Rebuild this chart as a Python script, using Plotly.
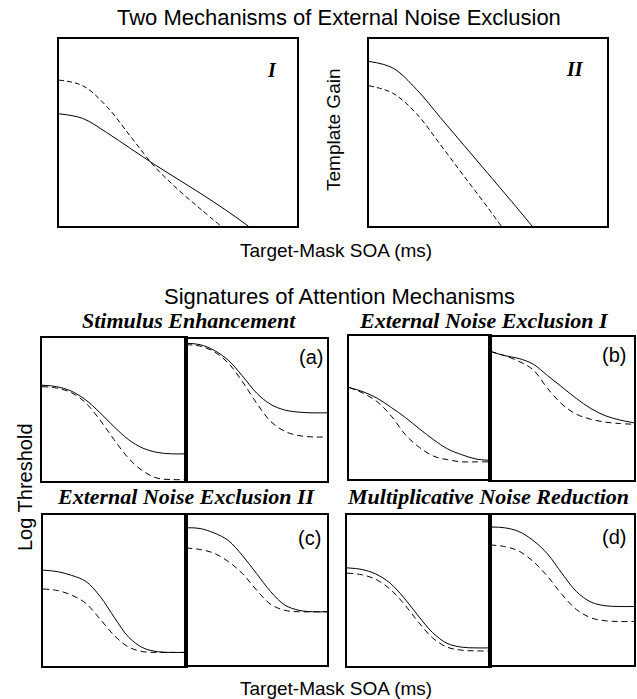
import plotly.graph_objects as go

W, H = 637, 699

# ---------------- data (normalised units, 0-100) ----------------
# Top: template gain vs target-mask SOA
gainI_solid_x = [0, 10, 20, 30, 40, 50, 60, 70, 79.5]
gainI_solid_y = [60, 57.5, 50, 41.5, 33, 25, 17, 8.6, 0]
gainI_dash_x = [0, 10, 20, 30, 40, 50, 60, 68]
gainI_dash_y = [78, 75, 64, 48, 32, 19.5, 8.5, 0]

gainII_solid_x = [0, 10, 20, 30, 40, 50, 60, 68.5]
gainII_solid_y = [88, 84.5, 73, 58, 43, 28, 13, 0]
gainII_dash_x = [0, 10, 20, 30, 40, 50, 55.5]
gainII_dash_y = [75, 71, 60, 43.5, 26.5, 9.7, 0]

# Bottom: log threshold vs SOA (each signature: low-noise / high-noise panel)
soa = [0, 10, 20, 30, 40, 50, 60, 70, 80, 90, 100]

a_low_solid = [67, 66, 63, 57, 48, 38, 29, 23, 20, 19, 19]
a_low_dash = [66, 65, 62, 55, 43, 29, 16, 7, 2, 1, 1]
a_high_solid = [97, 96, 92, 85, 74, 62, 54, 50, 48.5, 48, 48]
a_high_dash = [96, 95, 91, 83, 70, 55, 42, 35, 32, 31, 31]

b_low_solid = [64, 61, 56.5, 50, 43, 35, 27.5, 21, 17, 14, 13]
b_low_dash = [64, 60, 54, 44, 31, 22, 16, 13.5, 12, 12, 12]
b_high_solid = [90, 87, 85, 81, 73, 65, 57, 50, 45, 42, 40]
b_high_dash = [90, 87, 83, 77, 64, 53, 46, 42.5, 40.5, 39.5, 39]

c_low_solid = [63.5, 62.5, 60, 56, 46, 32, 19, 12, 9.5, 9, 9]
c_low_dash = [51, 50, 47, 41.5, 31, 20, 12.5, 9.5, 9, 9, 9]
c_high_solid = [91.5, 91, 88, 83, 73, 61, 49, 40, 36.5, 35.5, 35.5]
c_high_dash = [78, 77, 74.5, 69, 61, 50, 40.5, 36.5, 35.5, 35.5, 35.5]

d_low_solid = [65, 64, 61, 55, 45, 33, 22, 15, 12.5, 12, 12]
d_low_dash = [61.5, 60.5, 57.5, 51, 41, 29, 18.5, 12.5, 10.5, 10, 10]
d_high_solid = [92, 91.5, 89, 83, 74, 61, 49, 42, 39.5, 39, 39]
d_high_dash = [80, 79, 76, 69, 59, 47, 37, 31.5, 29.5, 29, 29]

# ---------------- layout helpers ----------------
def px_x(v):
    return v / W

def px_y(v):
    return 1 - v / H

fig = go.Figure()

# panels: (x0, x1, y top, y bottom, border width, curves)
panels = [
    (59, 297, 39, 226, 1.5, [(gainI_solid_x, gainI_solid_y, False), (gainI_dash_x, gainI_dash_y, True)]),
    (369, 607, 39, 226, 1.5, [(gainII_solid_x, gainII_solid_y, False), (gainII_dash_x, gainII_dash_y, True)]),
    (42, 186, 338, 481, 1.5, [(soa, a_low_solid, False), (soa, a_low_dash, True)]),
    (186, 327, 339, 481, 2.2, [(soa, a_high_solid, False), (soa, a_high_dash, True)]),
    (349, 490, 336, 479, 1.5, [(soa, b_low_solid, False), (soa, b_low_dash, True)]),
    (490, 634, 337, 480, 2.2, [(soa, b_high_solid, False), (soa, b_high_dash, True)]),
    (43, 186, 515, 666, 1.5, [(soa, c_low_solid, False), (soa, c_low_dash, True)]),
    (186, 327, 515, 665, 2.2, [(soa, c_high_solid, False), (soa, c_high_dash, True)]),
    (347, 490, 515, 666, 1.5, [(soa, d_low_solid, False), (soa, d_low_dash, True)]),
    (490, 634, 515, 665, 2.2, [(soa, d_high_solid, False), (soa, d_high_dash, True)]),
]

layout_axes = {}
for i, (x0, x1, yt, yb, bw, curves) in enumerate(panels, start=1):
    sfx = "" if i == 1 else str(i)
    ax_common = dict(range=[0, 100], showline=True, mirror=True, linecolor="black",
                     linewidth=bw, showticklabels=False, ticks="", showgrid=False,
                     zeroline=False, fixedrange=True)
    layout_axes["xaxis" + sfx] = dict(domain=[px_x(x0), px_x(x1)], anchor="y" + sfx, **ax_common)
    layout_axes["yaxis" + sfx] = dict(domain=[px_y(yb), px_y(yt)], anchor="x" + sfx, **ax_common)
    dash_pat = "5px,3px" if i <= 2 else "6px,4px"
    for (cx, cy, dashed) in curves:
        fig.add_trace(go.Scatter(
            x=cx, y=cy, mode="lines", xaxis="x" + sfx, yaxis="y" + sfx,
            line=dict(color="black", width=1, shape="spline", smoothing=1.0,
                      dash=dash_pat if dashed else "solid"),
            hoverinfo="skip", showlegend=False))

SANS = "Liberation Sans, Arial, Helvetica, sans-serif"
SERIF = "Liberation Serif, Times New Roman, serif"

def ann(text, x, y, size, family=SANS, bold=False, italic=False, angle=0):
    return dict(text=text, x=px_x(x), y=px_y(y), xref="paper", yref="paper",
                xanchor="center", yanchor="middle", showarrow=False, textangle=angle,
                font=dict(family=family, size=size, color="black",
                          weight="bold" if bold else "normal",
                          style="italic" if italic else "normal"))

annotations = [
    ann("Two Mechanisms of External Noise Exclusion", 339, 17, 22),
    ann("Template Gain", 333, 130, 19, angle=-90),
    ann("Target-Mask SOA (ms)", 336, 250, 19),
    ann("I", 272, 70, 20, SERIF, True, True),
    ann("II", 575, 69, 20, SERIF, True, True),
    ann("Signatures of Attention Mechanisms", 339, 296, 22),
    ann("Stimulus Enhancement", 189, 321, 22, SERIF, True, True),
    ann("External Noise Exclusion I", 484, 321, 22, SERIF, True, True),
    ann("External Noise Exclusion II", 186, 496, 22, SERIF, True, True),
    ann("Multiplicative Noise Reduction", 488, 496, 22, SERIF, True, True),
    ann("(a)", 311, 357, 20),
    ann("(b)", 614, 355, 20),
    ann("(c)", 309, 538, 20),
    ann("(d)", 614, 537, 20),
    ann("Log Threshold", 25, 487, 20, angle=-90),
    ann("Target-Mask SOA (ms)", 336, 688, 19),
]

fig.update_layout(
    width=W, height=H, margin=dict(l=0, r=0, t=0, b=0),
    paper_bgcolor="white", plot_bgcolor="white", showlegend=False,
    annotations=annotations, **layout_axes)

fig.write_html("out.html", config={"displayModeBar": False})
